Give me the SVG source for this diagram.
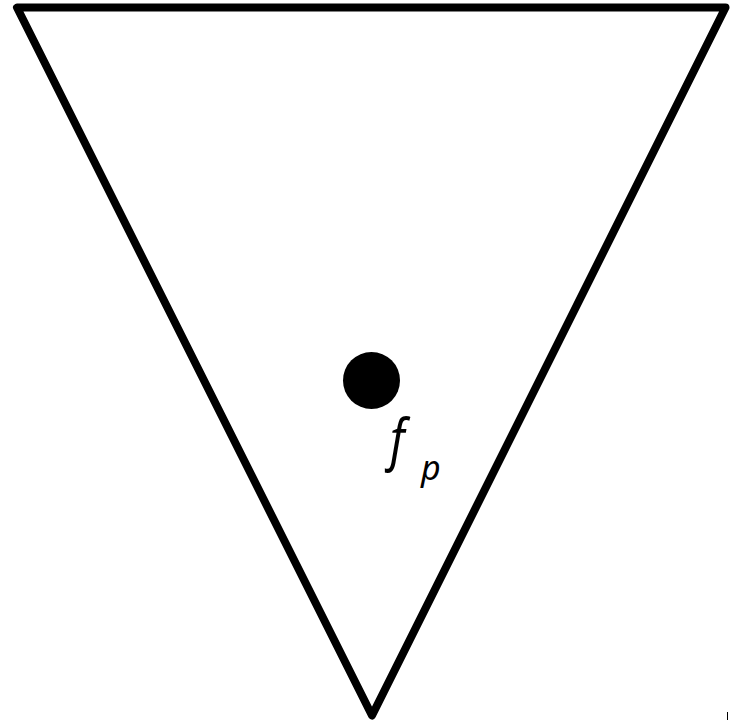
<svg xmlns="http://www.w3.org/2000/svg" width="749" height="723" viewBox="0 0 749 723">
<style>
.tri{fill:#fff;stroke:#000;stroke-width:8;stroke-linejoin:round}
.lbl{font-family:"Noto Sans","Open Sans",sans-serif;font-style:italic;fill:#000}
</style>
<rect width="749" height="723" fill="#fff"/>
<g id="triangle">
<polygon class="tri" points="17,7.5 725.5,7.5 372,715.5"/>
</g>
<g id="point">
<circle cx="371.5" cy="380.5" r="28.5" fill="#000"/>
<text class="lbl" transform="translate(390,459) scale(1,1.22)" font-size="46">f</text>
<text class="lbl" x="421" y="480" font-size="34">p</text>
</g>
<line x1="727.5" y1="712" x2="727.5" y2="720" stroke="#000" stroke-width="1"/>
</svg>
